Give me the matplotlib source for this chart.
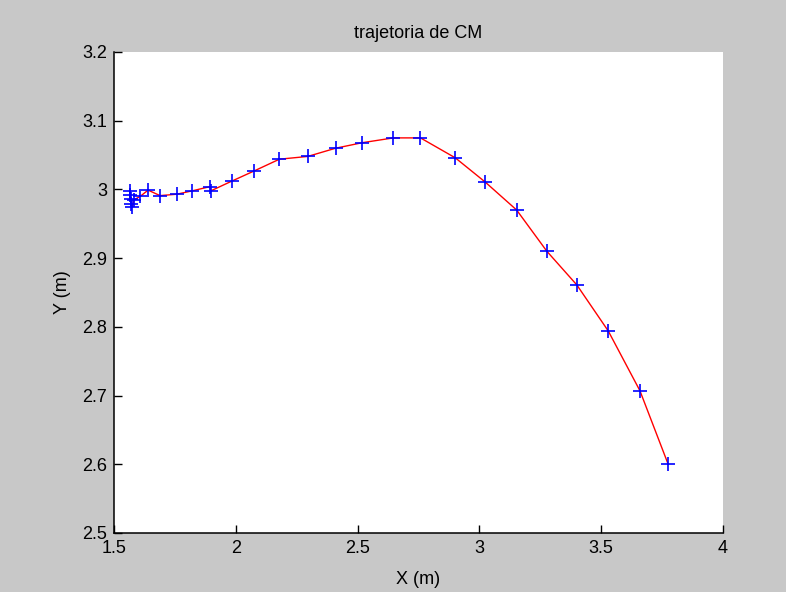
import matplotlib
matplotlib.use("Agg")
import matplotlib.pyplot as plt

plt.rcParams['font.family'] = ['Liberation Sans Narrow', 'Liberation Sans', 'DejaVu Sans']

x = [1.566, 1.566, 1.568, 1.571, 1.575, 1.583, 1.608, 1.640, 1.689, 1.757,
     1.822, 1.893, 1.898, 1.983, 2.076, 2.179, 2.295, 2.410, 2.519, 2.647,
     2.758, 2.901, 3.023, 3.153, 3.277, 3.400, 3.529, 3.659, 3.775]
y = [2.998, 2.992, 2.986, 2.979, 2.974, 2.985, 2.990, 2.999, 2.991, 2.993,
     2.998, 3.004, 2.998, 3.012, 3.027, 3.044, 3.048, 3.060, 3.068, 3.075,
     3.075, 3.046, 3.011, 2.970, 2.910, 2.861, 2.794, 2.707, 2.600]

xticks = [1.5, 2, 2.5, 3, 3.5, 4]
yticks = [2.5, 2.6, 2.7, 2.8, 2.9, 3.0, 3.1, 3.2]

fig = plt.figure(figsize=(7.86, 5.92), dpi=100, facecolor='#c8c8c8')
ax = fig.add_axes([114/786, 1 - 533/592, (723 - 114)/786, (533 - 52)/592])
ax.set_facecolor('white')
ax.plot(x, y, '-', color='red', linewidth=1.0)
ax.plot(x, y, '+', color='blue', markersize=10, markeredgewidth=1.2, linestyle='none')

ax.set_xlim(1.5, 4)
ax.set_ylim(2.5, 3.2)
ax.set_xticks(xticks)
ax.set_xticklabels(['1.5', '2', '2.5', '3', '3.5', '4'])
ax.set_yticks(yticks)
ax.set_yticklabels(['2.5', '2.6', '2.7', '2.8', '2.9', '3', '3.1', '3.2'])
for s in ['top', 'right']:
    ax.spines[s].set_visible(False)
for s in ['left', 'bottom']:
    ax.spines[s].set_linewidth(1.1)
ax.tick_params(direction='in', length=6, width=1, labelsize=13, pad=5)
ax.set_xlabel('X (m)', fontsize=13, labelpad=10)
ax.set_ylabel('Y (m)', fontsize=13, labelpad=8)
ax.set_title('trajetoria de CM', fontsize=13, pad=10)

fig.savefig('out.png', dpi=100, facecolor=fig.get_facecolor())
